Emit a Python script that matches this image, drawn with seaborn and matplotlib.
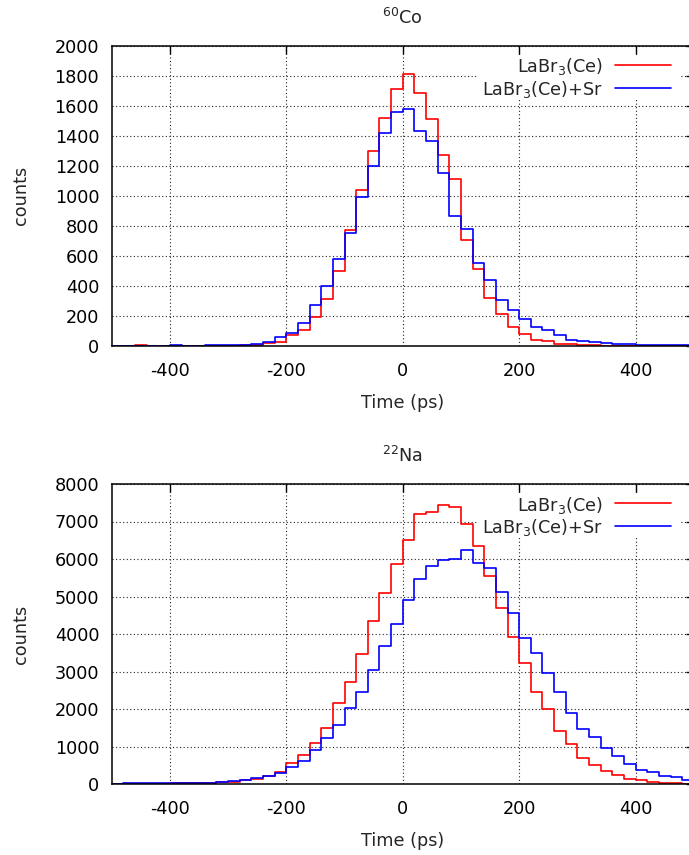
import numpy as np
import pandas as pd
import matplotlib
matplotlib.use("Agg")
import matplotlib.pyplot as plt
import seaborn as sns
from matplotlib.patches import Rectangle
from matplotlib.lines import Line2D

# ---------------- data (counts per 20 ps bin, bins from -500 to 500 ps) ----------------
bin_width_ps = 20
bin_edges_ps = list(range(-500, 500 + bin_width_ps, bin_width_ps))
bin_centers_ps = [e + bin_width_ps / 2 for e in bin_edges_ps[:-1]]

co60_labr = [0, 0, 4, 0, 0, 0, 0, 1, 0, 1,
             1, 3, 5, 19, 27, 72, 107, 188, 312, 497,
             771, 1038, 1297, 1515, 1710, 1810, 1686, 1514, 1272, 1113,
             702, 510, 316, 210, 125, 75, 41, 30, 10, 8,
             3, 2, 1, 1, 0, 0, 0, 0, 0, 0]
co60_labr_sr = [0, 0, 0, 0, 0, 2, 1, 1, 2, 3,
                3, 5, 9, 27, 56, 85, 151, 268, 398, 576,
                754, 988, 1201, 1415, 1560, 1575, 1430, 1366, 1150, 867,
                781, 553, 435, 305, 236, 177, 122, 105, 70, 36,
                28, 22, 17, 12, 9, 7, 6, 4, 5, 3]

na22_labr = [4, 5, 6, 8, 10, 15, 20, 25, 35, 45,
             65, 95, 135, 215, 330, 560, 780, 1102, 1502, 2151,
             2725, 3458, 4356, 5084, 5880, 6515, 7191, 7245, 7452, 7387,
             6924, 6338, 5547, 4702, 3929, 3236, 2460, 1991, 1420, 1080,
             693, 498, 347, 231, 124, 98, 62, 36, 18, 9]
na22_labr_sr = [12, 15, 18, 20, 22, 25, 30, 35, 40, 50,
                70, 115, 165, 225, 300, 453, 622, 907, 1218, 1573,
                2036, 2453, 3049, 3689, 4276, 4898, 5476, 5804, 5964, 6009,
                6249, 5884, 5769, 5111, 4569, 3902, 3502, 2951, 2453, 1893,
                1476, 1253, 969, 747, 542, 373, 329, 213, 178, 107]

series_labels = ["LaBr$_3$(Ce)", "LaBr$_3$(Ce)+Sr"]
series_colors = ["#ff0000", "#0000ff"]
panel_titles = ["$^{60}$Co", "$^{22}$Na"]
panel_data = [[co60_labr, co60_labr_sr], [na22_labr, na22_labr_sr]]
y_max = [2000, 8000]
y_step = [200, 1000]
x_ticks = [-400, -200, 0, 200, 400]
x_label = "Time (ps)"
y_label = "counts"

# ---------------- style ----------------
sns.set_style("white")
FS = 12.7
plt.rcParams["font.family"] = ["DejaVu Sans"]
plt.rcParams["mathtext.fontset"] = "dejavusans"
plt.rcParams["mathtext.default"] = "regular"
plt.rcParams["axes.unicode_minus"] = False
plt.rcParams["font.size"] = FS

W, H = 689, 855
fig = plt.figure(figsize=(W / 100, H / 100), dpi=100)

ax_left_px, ax_right_px = 111.7, 693.8
ax_h_px = 300.0
ax_tops_px = [45.7, 484.0]

for i in range(2):
    top = ax_tops_px[i]
    ax = fig.add_axes([ax_left_px / W, (H - top - ax_h_px) / H,
                       (ax_right_px - ax_left_px) / W, ax_h_px / H])
    n = len(bin_centers_ps)
    df = pd.DataFrame({"t": bin_centers_ps * 2,
                       "counts": list(panel_data[i][0]) + list(panel_data[i][1]),
                       "series": [series_labels[0]] * n + [series_labels[1]] * n})
    for lab, col in zip(series_labels, series_colors):
        sub = df[df["series"] == lab].reset_index(drop=True)
        sns.histplot(data=sub, x="t", weights="counts", bins=bin_edges_ps,
                     element="step", fill=False, color=col, linewidth=1.2,
                     ax=ax, zorder=2)

    ax.set_xlim(-500, 500)
    ax.set_ylim(0, y_max[i])
    ax.set_xticks(x_ticks)
    ax.set_yticks(np.arange(0, y_max[i] + 1, y_step[i]))
    ax.tick_params(direction="in", length=5.5, width=1.0, top=True, right=True,
                   labelsize=FS, colors="black")
    ax.tick_params(axis="x", pad=11.5)
    ax.tick_params(axis="y", pad=9)
    ax.grid(True, color="#222222", linewidth=0.8, linestyle=(0, (1, 2.2)))
    for s in ax.spines.values():
        s.set_color("black")
        s.set_linewidth(1.1)
        s.set_visible(True)
    ax.set_xlabel(x_label, fontsize=FS, labelpad=10)
    ax.set_ylabel(y_label, fontsize=FS, labelpad=18)
    ax.set_title(panel_titles[i], fontsize=FS, pad=15.5)

    # opaque key box (gnuplot style) + manual key
    ax.add_patch(Rectangle((0.6276, 0.819), 0.976 - 0.6276, 0.966 - 0.819,
                           transform=ax.transAxes, facecolor="white",
                           edgecolor="none", zorder=1.8))
    line_y = [0.9356, 0.860]
    for k, (lab, col) in enumerate(zip(series_labels, series_colors)):
        ax.text(0.844, line_y[k] - 0.0245, lab, transform=ax.transAxes,
                ha="right", va="baseline", fontsize=FS, zorder=3)
        ax.add_line(Line2D([0.8647, 0.9603], [line_y[k], line_y[k]],
                           transform=ax.transAxes, color=col, linewidth=1.2,
                           zorder=3))

fig.savefig("out.png", dpi=100)
